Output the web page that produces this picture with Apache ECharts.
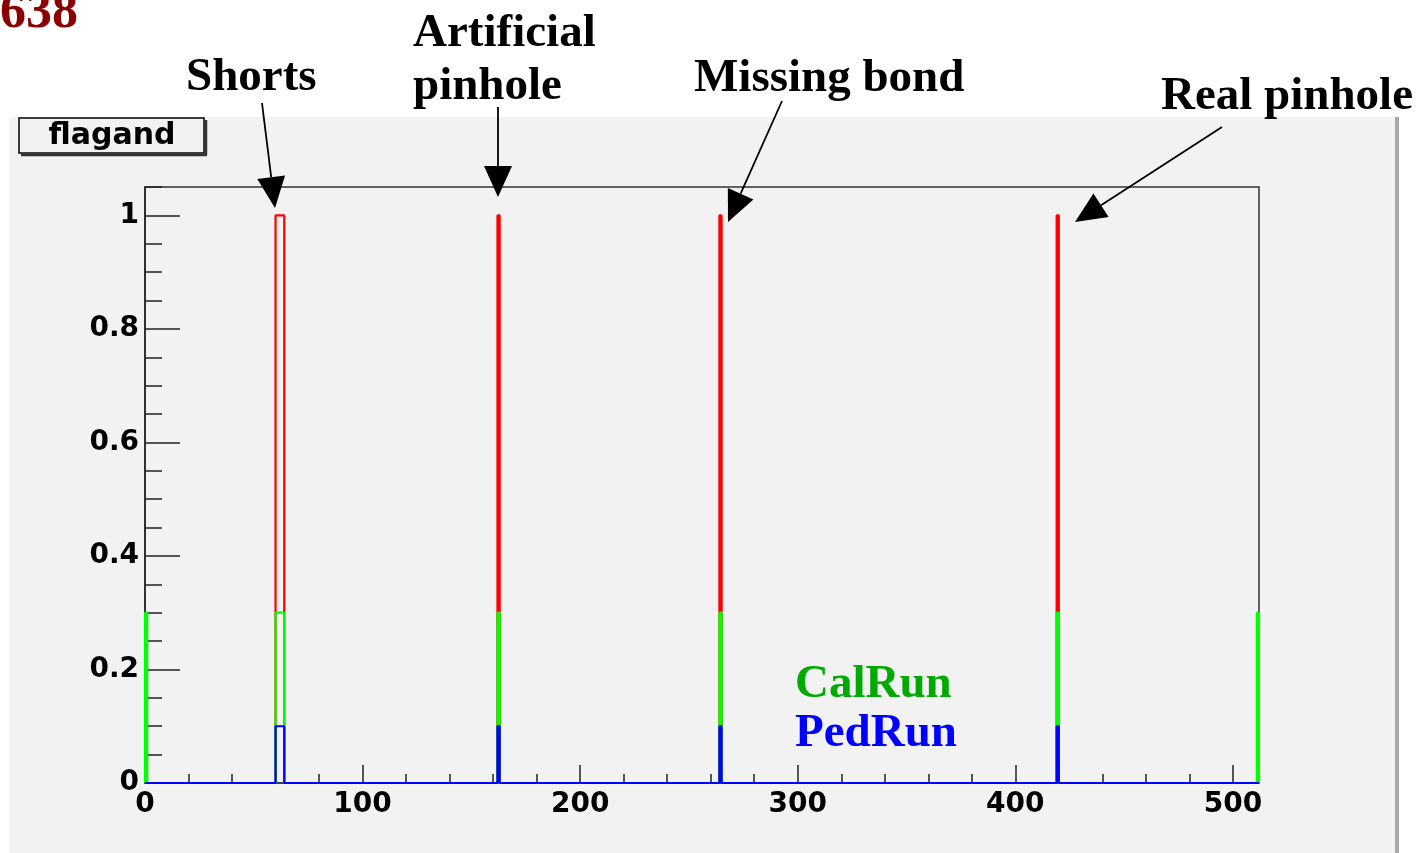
<!DOCTYPE html>
<html>
<head>
<meta charset="utf-8">
<script src="https://cdn.jsdelivr.net/npm/echarts@6/dist/echarts.min.js"></script>
<style>
html,body{margin:0;padding:0;background:#ffffff;}
#chart{width:1423px;height:853px;}
</style>
</head>
<body>
<div id="chart"></div>
<script>
// ---- data (bins of a 512-channel histogram) ----
var nBins = 512;
var flagandBins = [60, 61, 62, 63, 162, 264, 419];
var flagandValues = [1, 1, 1, 1, 1, 1, 1];
var calRunBins = [0, 60, 61, 62, 63, 162, 264, 419, 511];
var calRunValues = [0.3, 0.3, 0.3, 0.3, 0.3, 0.3, 0.3, 0.3, 0.3];
var pedRunBins = [60, 61, 62, 63, 162, 264, 419];
var pedRunValues = [0.1, 0.1, 0.1, 0.1, 0.1, 0.1, 0.1];
var xTickLabels = ['0', '100', '200', '300', '400', '500'];
var yTickLabels = ['0', '0.2', '0.4', '0.6', '0.8', '1'];

function histSteps(bins, values) {
  var v = new Array(nBins).fill(0);
  bins.forEach(function (b, i) { v[b] = values[i]; });
  var pts = [[0, 0]];
  for (var i = 0; i < nBins; i++) pts.push([i, v[i]]);
  pts.push([nBins, 0]);
  return pts;
}

var serif = 'Liberation Serif';

function arrow(x1, y1, x2, y2) {
  var dx = x2 - x1, dy = y2 - y1, len = Math.sqrt(dx * dx + dy * dy);
  var ux = dx / len, uy = dy / len, nx = -uy, ny = ux;
  var L = 31, W = 14;
  var bx = x2 - ux * L, by = y2 - uy * L;
  return [
    {type: 'line', shape: {x1: x1, y1: y1, x2: bx, y2: by}, style: {stroke: '#000', lineWidth: 1.8}, z: 100},
    {type: 'polygon', shape: {points: [[x2, y2], [bx + nx * W, by + ny * W], [bx - nx * W, by - ny * W]]}, style: {fill: '#000'}, z: 100}
  ];
}
function txt(x, y, s, color, align, size) {
  return {type: 'text', x: x, y: y, z: 100, style: {text: s, fill: color || '#000', font: 'bold ' + (size || 47) + 'px "' + serif + '"', align: align || 'left', verticalAlign: 'middle'}};
}

var graphics = [
  {type: 'rect', shape: {x: 10, y: 117, width: 1385, height: 740}, style: {fill: '#f2f2f2'}, z: -10},
  {type: 'rect', shape: {x: 1395, y: 117, width: 4, height: 740}, style: {fill: '#a8a8a8'}, z: -10},
  // flagand box
  {type: 'rect', shape: {x: 19, y: 118, width: 185, height: 35}, style: {fill: '#f2f2f2', stroke: '#000', lineWidth: 1.5}, z: 100},
  {type: 'line', shape: {x1: 206, y1: 120, x2: 206, y2: 155}, style: {stroke: '#333', lineWidth: 2.5}, z: 100},
  {type: 'line', shape: {x1: 21, y1: 155, x2: 207, y2: 155}, style: {stroke: '#333', lineWidth: 2.5}, z: 100},
  {type: 'text', x: 112, y: 136, z: 101, style: {text: 'flagand', fill: '#000', font: 'bold 30px "DejaVu Sans"', align: 'center', verticalAlign: 'middle'}},
  txt(78, 14, '638', '#8b0000', 'right', 52),
  txt(186, 78, 'Shorts'),
  txt(413, 34, 'Artificial'),
  txt(413, 87, 'pinhole'),
  txt(694, 79, 'Missing bond'),
  txt(1161, 97, 'Real pinhole'),
  txt(795, 685, 'CalRun', '#00aa00'),
  txt(795, 734, 'PedRun', '#0000ff')
];
graphics = graphics
  .concat(arrow(262, 103, 275, 208))
  .concat(arrow(498, 107, 498, 197))
  .concat(arrow(782, 101, 728, 222))
  .concat(arrow(1222, 127, 1075, 222));

var chart = echarts.init(document.getElementById('chart'), null, {renderer: 'canvas'});
chart.setOption({
  animation: false,
  backgroundColor: 'transparent',
  grid: {left: 145, top: 187, right: 164, bottom: 70, show: true, backgroundColor: '#f2f2f2', borderColor: '#333', borderWidth: 1.5},
  xAxis: [
    {type: 'value', min: 0, max: nBins, interval: 100, position: 'bottom',
     axisLine: {show: true, onZero: false, lineStyle: {color: '#333', width: 1.5}},
     axisTick: {show: true, inside: true, length: 18, lineStyle: {color: '#222', width: 1.5}},
     axisLabel: {show: true, margin: 8, showMaxLabel: false, formatter: function (v) { return xTickLabels[Math.round(v / 100)] || ''; }, fontFamily: 'DejaVu Sans', fontWeight: 'bold', fontSize: 28, color: '#000'},
     splitLine: {show: false}},
    {type: 'value', min: 0, max: nBins, interval: 20, position: 'bottom', offset: 0,
     axisLine: {show: false}, axisLabel: {show: false}, splitLine: {show: false},
     axisTick: {show: true, inside: true, length: 9, lineStyle: {color: '#222', width: 1.5}}}
  ],
  yAxis: [
    {type: 'value', min: 0, max: 1.05, interval: 0.2, position: 'left',
     axisLine: {show: true, onZero: false, lineStyle: {color: '#222', width: 1.5}},
     axisTick: {show: true, inside: true, length: 35, lineStyle: {color: '#222', width: 1.5}},
     axisLabel: {show: true, margin: 6, showMaxLabel: false, formatter: function (v) { return yTickLabels[Math.round(v / 0.2)] || ''; }, fontFamily: 'DejaVu Sans', fontWeight: 'bold', fontSize: 28, color: '#000'},
     splitLine: {show: false}},
    {type: 'value', min: 0, max: 1.05, interval: 0.05, position: 'left', offset: 0,
     axisLine: {show: false}, axisLabel: {show: false}, splitLine: {show: false},
     axisTick: {show: true, inside: true, length: 17, lineStyle: {color: '#222', width: 1.5}}}
  ],
  series: [
    {name: 'flagand', type: 'line', step: 'end', data: histSteps(flagandBins, flagandValues), showSymbol: false, symbol: 'none',
     lineStyle: {color: '#ff0000', width: 2.2}, z: 3},
    {name: 'CalRun', type: 'line', step: 'end', data: histSteps(calRunBins, calRunValues), showSymbol: false, symbol: 'none',
     lineStyle: {color: '#00ff00', width: 2.2}, z: 4},
    {name: 'PedRun', type: 'line', step: 'end', data: histSteps(pedRunBins, pedRunValues), showSymbol: false, symbol: 'none',
     lineStyle: {color: '#0000ff', width: 2.2}, z: 5}
  ],
  graphic: graphics
});
</script>
</body>
</html>
